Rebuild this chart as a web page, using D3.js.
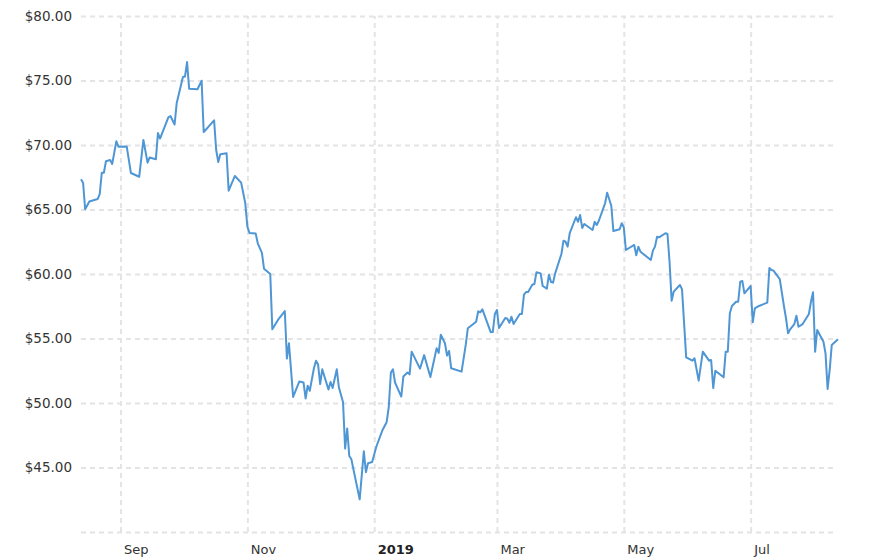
<!DOCTYPE html>
<html>
<head>
<meta charset="utf-8">
<script src="https://cdn.jsdelivr.net/npm/d3@7"></script>
<style>
  html, body { margin: 0; padding: 0; background: #fff; }
  svg { display: block; }
  text { font-family: "DejaVu Sans", Verdana, sans-serif; fill: #333; }
</style>
</head>
<body>
<svg id="chart" width="888" height="560"></svg>
<script>
// ---- data ----
const dates = [
  "2018-08-13","2018-08-14","2018-08-15","2018-08-17","2018-08-21","2018-08-22","2018-08-23","2018-08-24","2018-08-25","2018-08-27",
  "2018-08-28","2018-08-30","2018-08-31","2018-09-04","2018-09-06","2018-09-10","2018-09-12","2018-09-14","2018-09-15","2018-09-18",
  "2018-09-19","2018-09-20","2018-09-24","2018-09-25","2018-09-27","2018-09-28","2018-10-01","2018-10-02","2018-10-03","2018-10-04",
  "2018-10-08","2018-10-10","2018-10-11","2018-10-13","2018-10-16","2018-10-17","2018-10-18","2018-10-19","2018-10-22","2018-10-23",
  "2018-10-26","2018-10-29","2018-10-31","2018-11-01","2018-11-02","2018-11-05","2018-11-06","2018-11-08","2018-11-09","2018-11-12",
  "2018-11-13","2018-11-16","2018-11-19","2018-11-20","2018-11-21","2018-11-23","2018-11-26","2018-11-28","2018-11-29","2018-11-30",
  "2018-12-01","2018-12-03","2018-12-04","2018-12-05","2018-12-06","2018-12-07","2018-12-10","2018-12-11","2018-12-12","2018-12-14",
  "2018-12-15","2018-12-17","2018-12-18","2018-12-19","2018-12-20","2018-12-21","2018-12-25","2018-12-27","2018-12-28","2018-12-29",
  "2018-12-31","2019-01-02","2019-01-05","2019-01-07","2019-01-08","2019-01-09","2019-01-10","2019-01-11","2019-01-14","2019-01-15",
  "2019-01-17","2019-01-18","2019-01-19","2019-01-23","2019-01-25","2019-01-28","2019-01-31","2019-02-01","2019-02-02","2019-02-04",
  "2019-02-05","2019-02-06","2019-02-07","2019-02-12","2019-02-14","2019-02-15","2019-02-19","2019-02-20","2019-02-21","2019-02-22",
  "2019-02-26","2019-02-27","2019-02-28","2019-03-01","2019-03-02","2019-03-05","2019-03-06","2019-03-07","2019-03-08","2019-03-09",
  "2019-03-12","2019-03-13","2019-03-14","2019-03-15","2019-03-16","2019-03-18","2019-03-19","2019-03-20","2019-03-22","2019-03-23",
  "2019-03-25","2019-03-26","2019-03-27","2019-03-28","2019-03-29","2019-04-01","2019-04-02","2019-04-03","2019-04-04","2019-04-05",
  "2019-04-08","2019-04-09","2019-04-10","2019-04-11","2019-04-12","2019-04-16","2019-04-17","2019-04-18","2019-04-19","2019-04-22",
  "2019-04-23","2019-04-24","2019-04-25","2019-04-26","2019-04-29","2019-04-30","2019-05-01","2019-05-02","2019-05-06","2019-05-07",
  "2019-05-08","2019-05-09","2019-05-14","2019-05-15","2019-05-16","2019-05-17","2019-05-18","2019-05-21","2019-05-22","2019-05-23",
  "2019-05-24","2019-05-25","2019-05-28","2019-05-29","2019-05-31","2019-06-03","2019-06-04","2019-06-06","2019-06-08","2019-06-11",
  "2019-06-12","2019-06-13","2019-06-14","2019-06-18","2019-06-19","2019-06-20","2019-06-21","2019-06-22","2019-06-24","2019-06-25",
  "2019-06-26","2019-06-27","2019-06-28","2019-07-01","2019-07-02","2019-07-03","2019-07-05","2019-07-09","2019-07-10","2019-07-11",
  "2019-07-12","2019-07-15","2019-07-17","2019-07-18","2019-07-19","2019-07-20","2019-07-22","2019-07-23","2019-07-24","2019-07-26",
  "2019-07-29","2019-07-30","2019-07-31","2019-08-01","2019-08-02","2019-08-05","2019-08-06","2019-08-07","2019-08-08","2019-08-09",
  "2019-08-12"
];
const prices = [
  67.34,67.08,65.02,65.62,65.81,66.20,67.85,67.85,68.74,68.84,
  68.53,70.29,69.87,69.88,67.83,67.54,70.39,68.63,69.03,68.89,
  70.93,70.50,72.15,72.25,71.59,73.23,75.27,75.31,76.43,74.36,
  74.32,74.98,71.01,71.36,71.91,69.61,68.68,69.28,69.36,66.46,
  67.60,67.08,65.48,63.67,63.18,63.14,62.38,61.63,60.41,60.00,
  55.71,56.51,57.13,53.45,54.63,50.47,51.67,51.59,50.35,51.34,
  50.95,52.69,53.28,52.98,51.47,52.61,51.05,51.63,51.16,52.61,
  51.22,50.05,46.47,48.02,45.89,45.64,42.53,46.26,44.63,45.33,
  45.43,46.61,47.91,48.53,49.71,52.36,52.61,51.59,50.50,52.05,
  52.36,52.22,53.98,52.66,53.71,52.02,54.25,53.88,55.29,54.63,
  53.68,54.03,52.69,52.43,54.50,55.79,56.30,57.11,57.03,57.26,
  55.50,55.50,56.90,57.21,55.81,56.59,56.53,56.22,56.69,56.12,
  56.90,56.90,58.40,58.60,58.60,59.17,59.22,60.13,60.05,59.07,
  58.86,59.95,59.38,59.33,60.05,61.55,62.58,62.50,62.12,63.16,
  64.40,64.05,64.57,63.57,63.88,63.41,64.05,63.80,64.13,65.48,
  66.30,65.79,65.27,63.33,63.47,63.93,63.62,61.86,62.25,61.45,
  62.12,61.73,61.09,61.81,62.12,62.89,62.84,63.16,63.10,60.95,
  57.93,58.63,59.15,58.81,53.54,53.28,53.47,51.73,53.98,53.28,
  53.33,51.16,52.50,51.99,53.98,53.98,56.95,57.52,57.85,57.85,
  59.40,59.46,58.50,59.07,56.26,57.34,57.52,57.78,60.47,60.31,
  60.26,59.61,57.52,56.57,55.40,55.71,56.12,56.77,55.91,56.12,
  56.90,57.85,58.58,53.98,55.66,54.75,53.85,51.09,52.56,54.50,
  54.94
];
const yTickValues = [45, 50, 55, 60, 65, 70, 75, 80];
const yGridValues = [40, 45, 50, 55, 60, 65, 70, 75, 80];
const xTickDates = ["2018-09-01","2018-11-01","2019-01-01","2019-03-01","2019-05-01","2019-07-01"];
const xTickLabels = ["Sep","Nov","2019","Mar","May","Jul"];
const yDomain = [40, 80];

// ---- drawing ----
(function () {
  const parse = d3.timeParse("%Y-%m-%d");
  const data = dates.map((d, i) => ({ date: parse(d), value: prices[i] }));
  const tickDates = xTickDates.map(parse);

  const mLeft = 81, mRight = 838, mTop = 16, mBottom = 532, gridRight = 836;
  const svg = d3.select("#chart");

  const x = d3.scaleTime().domain(d3.extent(data, d => d.date)).range([mLeft, mRight]);
  const y = d3.scaleLinear().domain(yDomain).range([mBottom, mTop]);

  const gridColor = "#e4e4e4";

  // horizontal grid
  const gy = svg.append("g")
    .attr("transform", `translate(${mLeft},0)`)
    .call(d3.axisLeft(y).tickValues(yGridValues).tickSize(-(gridRight - mLeft)).tickFormat(""));
  gy.select(".domain").remove();
  gy.selectAll(".tick line")
    .attr("stroke", gridColor).attr("stroke-width", 2).attr("stroke-dasharray", "5,4");

  // vertical grid
  const gx = svg.append("g")
    .attr("transform", `translate(0,${mBottom})`)
    .call(d3.axisBottom(x).tickValues(tickDates).tickSize(-(mBottom - mTop)).tickFormat(""));
  gx.select(".domain").remove();
  gx.selectAll(".tick line")
    .attr("stroke", gridColor).attr("stroke-width", 2).attr("stroke-dasharray", "5,4");

  // y labels
  svg.append("g").selectAll("text")
    .data(yTickValues)
    .join("text")
    .attr("x", 72)
    .attr("y", d => y(d))
    .attr("dy", "0.36em")
    .attr("text-anchor", "end")
    .style("font-size", "13.5px")
    .text(d => "$" + d.toFixed(2));

  // x labels
  svg.append("g").selectAll("text")
    .data(tickDates)
    .join("text")
    .attr("x", d => x(d) + 3.5)
    .attr("y", 554)
    .style("font-size", "13px")
    .style("font-weight", (d, i) => xTickLabels[i] === "2019" ? "bold" : "normal")
    .style("fill", (d, i) => xTickLabels[i] === "2019" ? "#222" : "#333")
    .text((d, i) => xTickLabels[i]);

  // price line
  svg.append("path")
    .datum(data)
    .attr("fill", "none")
    .attr("stroke", "#4f96d5")
    .attr("stroke-width", 2)
    .attr("stroke-linejoin", "round")
    .attr("d", d3.line().x(d => x(d.date)).y(d => y(d.value)));
})();
</script>
</body>
</html>
